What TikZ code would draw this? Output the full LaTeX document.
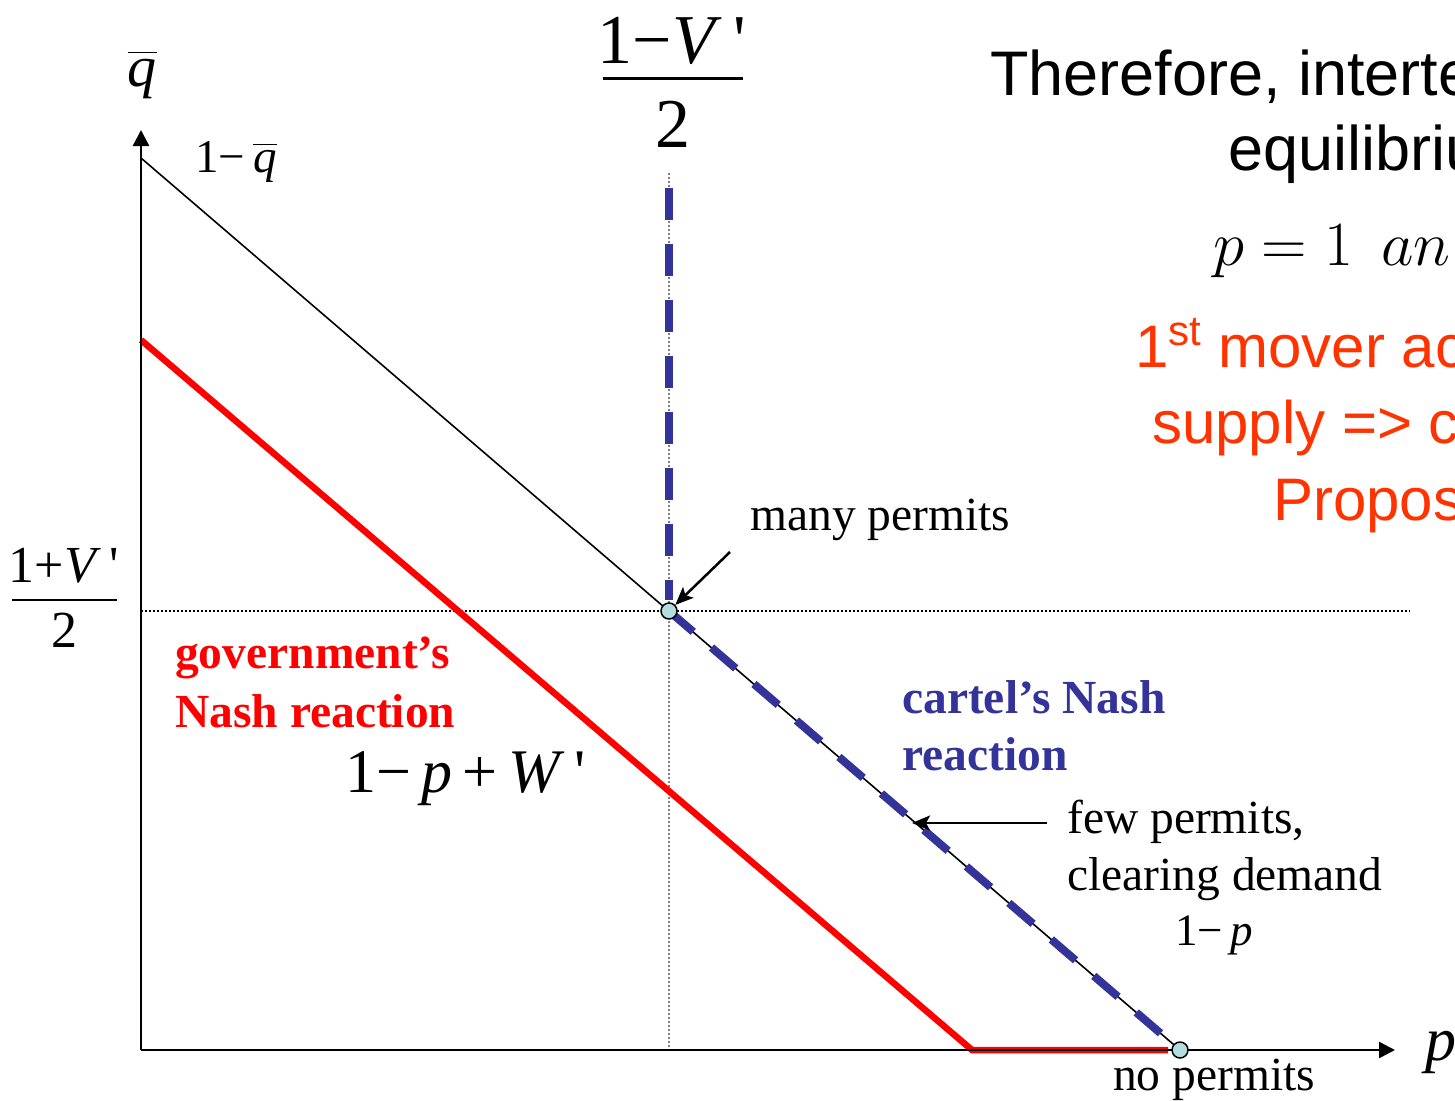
\RequirePackage{fix-cm}
\documentclass[tikz,border=0pt]{standalone}
\usepackage[no-math]{fontspec}
\setmainfont{Liberation Serif}
\newfontfamily\slidefont{Liberation Sans}
\usetikzlibrary{arrows.meta,positioning,calc}
\definecolor{govred}{HTML}{FF0000}
\definecolor{cartblue}{HTML}{333399}
\definecolor{noteorange}{HTML}{FF3300}
\definecolor{ptfill}{HTML}{B3DEDE}
\definecolor{guidegray}{HTML}{808080}

\begin{document}
\begin{tikzpicture}[
  x=1pt, y=-1pt,
  axis/.style    ={line width=2.5pt, -{Triangle[length=16pt,width=16pt]}},
  demand/.style  ={line width=1.6pt},
  govline/.style ={line width=6.5pt, govred},
  cartline/.style={line width=8pt, cartblue, dash pattern=on 32pt off 24pt},
  guide/.style   ={line width=1.5pt, dash pattern=on 2pt off 2pt},
  eqpt/.style    ={circle, draw=black, line width=1.5pt, fill=ptfill, inner sep=0pt, minimum size=16pt},
  pointer/.style ={line width=2.5pt, -{Stealth[length=18pt,width=15pt,inset=4pt]}},
  lbl/.style     ={inner sep=0pt, anchor=base west, font=\fontsize{47.5}{57}\selectfont},
  govlbl/.style  ={lbl, text=govred, font=\fontsize{47.5}{57}\selectfont\bfseries},
  cartlbl/.style ={lbl, text=cartblue, font=\fontsize{47.5}{57}\selectfont\bfseries},
  slide/.style   ={inner sep=0pt, anchor=base west, font=\slidefont\fontsize{63}{75}\selectfont},
  note/.style    ={inner sep=0pt, anchor=base west, text=noteorange, font=\slidefont\fontsize{60}{72}\selectfont},
]
  \useasboundingbox (0,0) rectangle (1455,1100);
  \clip (0,0) rectangle (1455,1100);

  % points of the diagram
  \coordinate (O)     at (141,1050);
  \coordinate (ytip)  at (141,130);
  \coordinate (xtip)  at (1395,1050);
  \coordinate (qtop)  at (141,158);
  \coordinate (many)  at (669,611);
  \coordinate (none)  at (1180,1050);
  \coordinate (govtop) at (141,340);
  \coordinate (govkink) at (972,1050);
  \coordinate (govend) at (1168,1050);
  \coordinate (cartop) at (669,188);

  % guides
  \draw[guide, guidegray] (669,173) -- (669,1050);
  \draw[guide] (141,611) -- (1410,611);

  % reaction curves
  \draw[demand] (qtop) -- (none);
  \draw[cartline] (cartop) -- (669,600);
  \draw[cartline] (many) -- ($(many)!0.975!(none)$);
  \draw[govline] (govtop) -- (govkink) -- (govend);

  \draw[axis] (O) -- (ytip);
  \draw[axis] (O) -- (xtip);

  \node[eqpt] (manydot) at (many) {};
  \node[eqpt] (nonedot) at (none) {};

  % axis labels
  \node[lbl, anchor=base, font=\fontsize{58}{70}\selectfont] (qlbl) at (142,86) {$\overline{\mbox{\itshape q\vphantom{t}}}$};
  \node[lbl, anchor=base west, font=\fontsize{62}{74}\selectfont] (plbl) at (1425,1060) {\itshape p};
  \node[lbl, font=\fontsize{47}{56}\selectfont] (qint) at (195,172) {1−\,$\overline{\mbox{\itshape q\vphantom{t}}}$};

  % fractions
  \node[lbl, anchor=base, font=\fontsize{70}{84}\selectfont] (vnum) at (672,63) {1−\textit{V}\,\textquotesingle};
  \node[lbl, anchor=base, font=\fontsize{70}{84}\selectfont] (vden) at (673,147) {2};
  \draw[line width=3pt] (603,78) -- (743,78);
  \node[lbl, anchor=base, font=\fontsize{52}{62}\selectfont] (wnum) at (64,582) {1+\textit{V}\,\textquotesingle};
  \node[lbl, anchor=base, font=\fontsize{52}{62}\selectfont] (wden) at (64,647) {2};
  \draw[line width=2.5pt] (12,600) -- (117,600);

  % curve labels
  \node[govlbl] (gov1) at (175,668) {government's};
  \node[govlbl] (gov2) at (175,727) {Nash reaction};
  \node[lbl, font=\fontsize{62}{74}\selectfont] (goveq) at (345,792) {1−\,\textit{p}\,+\,\textit{W}\,\textquotesingle};
  \node[cartlbl] (cart1) at (902,713) {cartel's Nash};
  \node[cartlbl] (cart2) at (902,770) {reaction};

  \node[lbl] (manylbl) at (750,530) {many permits};
  \node[lbl] (few1) at (1067,833) {few permits,};
  \node[lbl] (few2) at (1067,890) {clearing demand};
  \node[lbl, font=\fontsize{45}{54}\selectfont] (demeq) at (1175,945) {1−\,\textit{p}};
  \node[lbl] (nolbl) at (1113,1090) {no permits};

  \coordinate (manytail) at (730,552);
  \coordinate (fewtail) at (1047,823);
  \coordinate (fewtip) at (912,823);
  \draw[pointer] (manytail) -- (manydot);
  \draw[pointer] (fewtail) -- (fewtip);

  % slide text
  \node[slide] (line1) at (990,95) {Therefore, interte};
  \node[slide] (line2) at (1228,170) {equilibriu};
  \node[slide, font=\fontsize{63}{75}\selectfont] (line3) at (1213,265) {$p=1\;\,an$};
  \node[note] (line4) at (1135,367) {1\textsuperscript{st} mover ac};
  \node[note] (line5) at (1152,443) {supply => c};
  \node[note] (line6) at (1273,520) {Propos};
\end{tikzpicture}
\end{document}
